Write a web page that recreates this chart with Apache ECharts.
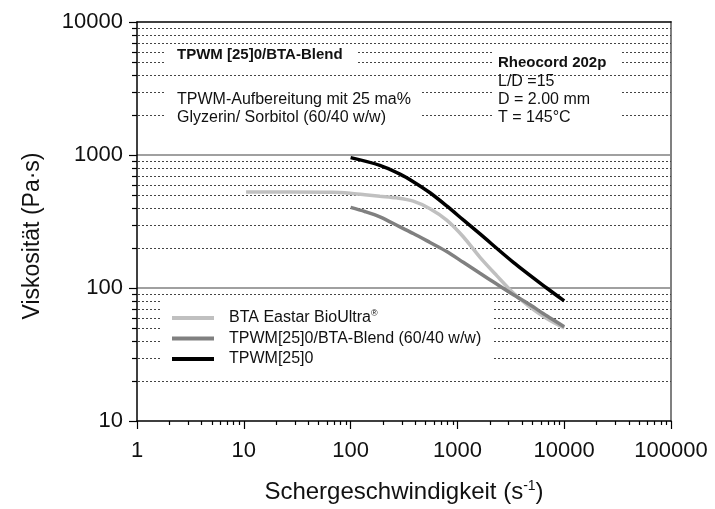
<!DOCTYPE html>
<html>
<head>
<meta charset="utf-8">
<title>Viskosität</title>
<script src="https://cdn.jsdelivr.net/npm/echarts@6/dist/echarts.min.js"></script>
<style>
  html, body { margin: 0; padding: 0; background: #fff; }
  #chart { width: 715px; height: 509px; }
</style>
</head>
<body>
<div id="chart"></div>
<script>
// shear rate (1/s) and viscosity (Pa·s)
const shearBTA = [10.5, 27, 68, 99, 136, 188, 270, 386, 554, 794, 1135, 1628, 2333, 3342, 4786, 6855, 10000]
const viscBTA = [527, 527, 525, 516, 503, 490, 476, 450, 395, 324, 243, 170, 124, 91.6, 71.8, 59, 50]
const shearBlend = [100, 136, 188, 290, 386, 554, 794, 1135, 1628, 2333, 3342, 4786, 6855, 10000]
const viscBlend = [404, 376, 343, 288, 257, 220, 188, 156, 129, 107, 89, 74.7, 61.8, 51.2]
const shearTPWM = [100, 188, 290, 386, 554, 794, 1135, 1628, 3342, 6855, 10000]
const viscTPWM = [955, 836, 718, 630, 520, 414, 325, 255, 156, 100, 80]

const seriesNames = ['BTA Eastar BioUltra®', 'TPWM[25]0/BTA-Blend (60/40 w/w)', 'TPWM[25]0']
const seriesColors = ['#c0c0c0', '#808080', '#000000']

// minor tick values of the log axes
const minorY = [20, 30, 40, 50, 60, 70, 80, 90, 200, 300, 400, 500, 600, 700, 800, 900,
  2000, 3000, 4000, 5000, 6000, 7000, 8000, 9000]
const minorX = [2, 3, 4, 5, 6, 7, 8, 9, 20, 30, 40, 50, 60, 70, 80, 90,
  200, 300, 400, 500, 600, 700, 800, 900, 2000, 3000, 4000, 5000, 6000, 7000, 8000, 9000,
  20000, 30000, 40000, 50000, 60000, 70000, 80000, 90000]

const font = '"Liberation Sans", Arial, Helvetica, sans-serif'

const pairs = (xs, ys) => xs.map((x, i) => [x, ys[i]])
const plain = v => String(Math.round(v))

const chart = echarts.init(document.getElementById('chart'))

const lineData = [pairs(shearBTA, viscBTA), pairs(shearBlend, viscBlend), pairs(shearTPWM, viscTPWM)]
const lineSeries = seriesNames.map((name, i) => ({
  name: name,
  type: 'line',
  smooth: 0.3,
  showSymbol: false,
  z: 3 + i,
  data: lineData[i],
  lineStyle: { color: seriesColors[i], width: 3.5 },
  itemStyle: { color: seriesColors[i] }
}))

const option = {
  backgroundColor: '#fff',
  animation: false,
  textStyle: { fontFamily: font },
  grid: { left: 137, right: 44, top: 22, bottom: 85 },
  legend: {
    data: seriesNames,
    orient: 'vertical',
    left: 161,
    top: 299,
    padding: [10, 12, 6, 11],
    backgroundColor: '#fff',
    icon: 'rect',
    itemWidth: 42,
    itemHeight: 4,
    itemGap: 2.5,
    selectedMode: false,
    formatter: name => name.replace('®', '{sup|®}'),
    textStyle: {
      fontFamily: font,
      fontSize: 16,
      color: '#111',
      lineHeight: 18,
      padding: [0, 0, 0, 10],
      rich: {
        sup: { fontSize: 9, padding: [0, 0, 8, 0], color: '#111' }
      }
    }
  },
  xAxis: [
    {
      type: 'log',
      logBase: 10,
      min: 1,
      max: 100000,
      position: 'bottom',
      axisLine: { lineStyle: { color: '#000', width: 1.5 } },
      axisTick: { length: 8, lineStyle: { color: '#000', width: 1.2 } },
      axisLabel: { fontSize: 22, color: '#111', margin: 19, fontFamily: font, formatter: plain },
      splitLine: { show: false },
      name: 'Schergeschwindigkeit (s{sup|-1})',
      nameLocation: 'middle',
      nameGap: 58,
      nameTextStyle: {
        fontSize: 24,
        color: '#111',
        fontFamily: font,
        rich: {
          sup: { fontSize: 14, padding: [0, 0, 12, 0], color: '#111' }
        }
      }
    },
    {
      type: 'log',
      min: 1,
      max: 100000,
      position: 'top',
      axisLine: { lineStyle: { color: '#000', width: 1.5 } },
      axisTick: { show: false },
      axisLabel: { show: false },
      splitLine: { show: false }
    }
  ],
  yAxis: [
    {
      type: 'log',
      logBase: 10,
      min: 10,
      max: 10000,
      axisLine: { show: true, lineStyle: { color: '#000', width: 1.5 } },
      axisTick: { show: true, length: 8, lineStyle: { color: '#000', width: 1.2 } },
      axisLabel: { fontSize: 22, color: '#111', margin: 14, fontFamily: font, formatter: plain },
      splitLine: {
        show: true,
        showMinLine: false,
        showMaxLine: false,
        lineStyle: { color: '#808080', width: 1.5 }
      }
    },
    {
      type: 'log',
      min: 10,
      max: 10000,
      position: 'right',
      axisLine: { show: true, lineStyle: { color: '#808080', width: 2 } },
      axisTick: { show: false },
      axisLabel: { show: false },
      splitLine: { show: false }
    }
  ],
  series: [
    {
      // dotted minor grid lines and their ticks on the y axis
      type: 'custom',
      silent: true,
      z: 1,
      clip: false,
      data: minorY.map(v => [1, v]),
      renderItem(params, api) {
        const cs = params.coordSys
        const y = Math.round(api.coord([1, api.value(1)])[1]) + 0.5
        return {
          type: 'group',
          children: [
            {
              type: 'line',
              shape: { x1: cs.x + 1, y1: y, x2: cs.x + cs.width, y2: y },
              style: { stroke: '#444', lineWidth: 1, lineDash: [2, 2] }
            },
            {
              type: 'line',
              shape: { x1: cs.x - 5, y1: y, x2: cs.x, y2: y },
              style: { stroke: '#000', lineWidth: 1.2 }
            }
          ]
        }
      }
    },
    {
      // minor ticks on the x axis
      type: 'custom',
      silent: true,
      z: 1,
      clip: false,
      data: minorX.map(v => [v, 10]),
      renderItem(params, api) {
        const cs = params.coordSys
        const x = Math.round(api.coord([api.value(0), 10])[0]) + 0.5
        const yb = cs.y + cs.height
        return {
          type: 'line',
          shape: { x1: x, y1: yb, x2: x, y2: yb + 4 },
          style: { stroke: '#000', lineWidth: 1.2 }
        }
      }
    }
  ].concat(lineSeries),
  graphic: [
    // white boxes behind the notes
    { type: 'rect', z: 50, shape: { x: 166, y: 45, width: 192, height: 23 }, style: { fill: '#fff' } },
    { type: 'rect', z: 50, shape: { x: 166, y: 85, width: 256, height: 46 }, style: { fill: '#fff' } },
    { type: 'rect', z: 50, shape: { x: 494, y: 46, width: 128, height: 24 }, style: { fill: '#fff' } },
    { type: 'rect', z: 50, shape: { x: 494, y: 78, width: 128, height: 53 }, style: { fill: '#fff' } },
    {
      type: 'text', z: 51, x: 177, y: 55,
      style: { text: 'TPWM [25]0/BTA-Blend', font: 'bold 15px ' + font, fill: '#111', textVerticalAlign: 'middle' }
    },
    {
      type: 'text', z: 51, x: 177, y: 100,
      style: { text: 'TPWM-Aufbereitung mit 25 ma%', font: '16px ' + font, fill: '#111', textVerticalAlign: 'middle' }
    },
    {
      type: 'text', z: 51, x: 177, y: 118,
      style: { text: 'Glyzerin/ Sorbitol (60/40 w/w)', font: '16px ' + font, fill: '#111', textVerticalAlign: 'middle' }
    },
    {
      type: 'text', z: 51, x: 498, y: 63,
      style: { text: 'Rheocord 202p', font: 'bold 15px ' + font, fill: '#111', textVerticalAlign: 'middle' }
    },
    {
      type: 'text', z: 51, x: 498, y: 82,
      style: { text: 'L/D =15', font: '16px ' + font, fill: '#111', textVerticalAlign: 'middle' }
    },
    {
      type: 'text', z: 51, x: 498, y: 100,
      style: { text: 'D = 2.00 mm', font: '16px ' + font, fill: '#111', textVerticalAlign: 'middle' }
    },
    {
      type: 'text', z: 51, x: 498, y: 118,
      style: { text: 'T = 145°C', font: '16px ' + font, fill: '#111', textVerticalAlign: 'middle' }
    },
    {
      // y axis title
      type: 'text', z: 51, x: 33, y: 236, rotation: Math.PI / 2,
      style: {
        text: 'Viskosität (Pa·s)', font: '23px ' + font, fill: '#111',
        textAlign: 'center', textVerticalAlign: 'middle'
      }
    }
  ]
}

chart.setOption(option)
</script>
</body>
</html>
